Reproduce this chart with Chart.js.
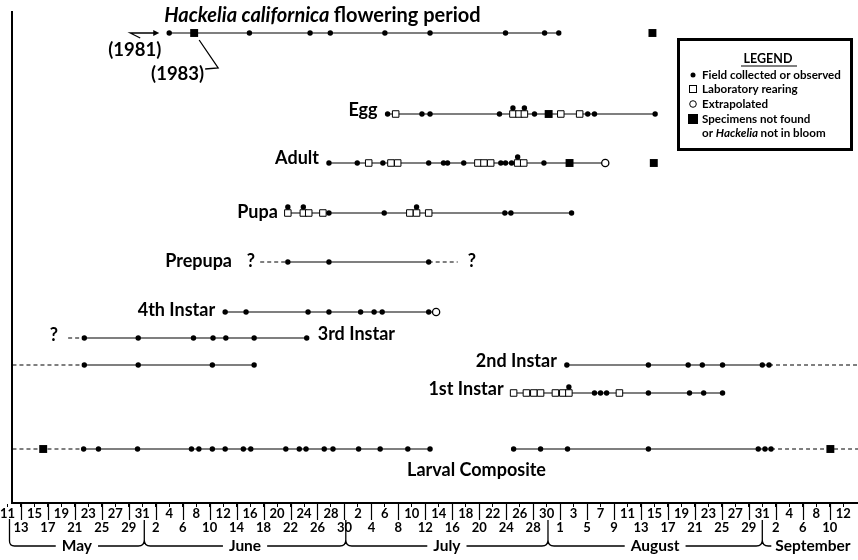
<!DOCTYPE html>
<html>
<head>
<meta charset="utf-8">
<script src="https://cdn.jsdelivr.net/npm/chart.js@4.4.1/dist/chart.umd.min.js"></script>
<style>
  html, body { margin: 0; padding: 0; background: #fff; }
  #wrap { width: 858px; height: 560px; }
</style>
</head>
<body>
<div id="wrap"><canvas id="chart" width="858" height="560"></canvas></div>
<script>
// All dates are day numbers counted from 11 May (day 0).

// axis text
const topTickLabels = ['11','15','19','23','27','31','4','8','12','16','20','24','28','2','6','10','14','18','22','26','30','3','7','11','15','19','23','27','31','4','8','12'];
const bottomTickLabels = ['13','17','21','25','29','2','6','10','14','18','22','26','30','4','8','12','16','20','24','28','1','5','9','13','17','21','25','29','2','6','10'];
const months = ['May', 'June', 'July', 'August', 'September'];
const monthBreaks = [0.3, 20.3, 50.2, 80.2, 112.0];

// Hackelia californica flowering period
const flowerField = [24.0, 35.9, 44.9, 47.9, 56.0, 62.7, 73.9, 79.7, 81.8];
const flowerMissing = [27.7, 95.7];
const flowerSpans = [[24.0, 81.8]];

// Egg
const eggField = [56.4, 61.5, 62.7, 73.0, 78.2, 86.1, 87.1, 96.1];
const eggLab = [57.6, 75.0, 75.9, 76.7, 82.1, 84.9];
const eggFieldOnLab = [75.0, 76.7];
const eggMissing = [80.3];
const eggSpans = [[56.4, 96.1]];

// Adult
const adultField = [47.7, 51.9, 55.7, 62.5, 64.7, 65.3, 67.7, 73.2, 73.9, 74.8, 79.6];
const adultLab = [53.6, 56.9, 57.9, 69.8, 70.7, 71.7, 75.7, 76.6];
const adultFieldOnLab = [75.7];
const adultMissing = [83.4, 95.9];
const adultExtrap = [88.7];
const adultSpans = [[47.7, 88.7]];

// Pupa
const pupaField = [47.7, 55.9, 73.8, 74.7, 83.7];
const pupaLab = [41.6, 43.9, 44.7, 46.8, 59.7, 60.7, 62.5];
const pupaFieldOnLab = [41.6, 43.9, 60.7];
const pupaSpans = [[41.6, 83.7]];

// Prepupa
const prepupaField = [41.6, 47.7, 62.5];
const prepupaSpans = [[41.6, 62.5]];
const prepupaUncertain = [[37.5, 41.6], [62.5, 66.8]];

// 4th instar
const instar4Field = [32.3, 35.4, 44.6, 47.7, 52.4, 54.4, 55.6, 62.5];
const instar4Extrap = [63.6];
const instar4Spans = [[32.3, 63.6]];

// 3rd instar
const instar3Field = [11.4, 19.4, 27.6, 30.5, 32.4, 36.6, 44.4];
const instar3Spans = [[11.4, 44.4]];
const instar3Uncertain = [[9.0, 11.4]];

// 2nd instar (overwinters: spring part on the left, summer part on the right)
const instar2Field = [11.4, 19.4, 30.4, 36.6, 83.0, 95.1, 101.0, 103.1, 106.1, 112.0, 113.0];
const instar2Spans = [[11.4, 36.6], [83.0, 113.0]];
const instar2Uncertain = [[0.74, 11.4], [113.0, 126.2]];

// 1st instar
const instar1Field = [87.1, 88.0, 88.9, 95.1, 101.2, 103.3, 106.1];
const instar1Lab = [75.1, 77.0, 78.1, 79.1, 81.3, 82.4, 83.3, 90.8];
const instar1FieldOnLab = [83.3];
const instar1Spans = [[75.1, 106.1]];

// Larval composite
const compositeField = [11.3, 13.5, 19.3, 27.3, 28.4, 30.4, 32.3, 35.0, 36.1, 41.3, 43.3, 44.3, 47.0, 48.3, 52.1, 55.3, 59.4, 62.7, 75.1, 79.1, 83.1, 95.1, 111.4, 112.4, 113.3];
const compositeMissing = [5.3, 122.1];
const compositeSpans = [[11.3, 62.7], [75.1, 113.3]];
const compositeUncertain = [[0.74, 11.3], [113.3, 126.2]];

const legendLabels = ['Field collected or observed', 'Laboratory rearing', 'Extrapolated', 'Specimens not found'];

// ---- layout (page pixels, y axis maps 1:1) ----
const rowY = { flower: 33, egg: 114, adult: 163, pupa: 213, prepupa: 262, instar4: 312, instar3: 338, instar2: 365, instar1: 393, composite: 449 };
const stackLift = 6;
const FONT = 'Lato';

const fieldPt = { pointStyle: 'circle', pointRadius: 2.7, pointBackgroundColor: '#000', pointBorderColor: '#000', pointBorderWidth: 0 };
const labPt = { pointStyle: 'rect', pointRadius: 4.6, pointBackgroundColor: '#fff', pointBorderColor: '#000', pointBorderWidth: 1 };
const extrapPt = { pointStyle: 'circle', pointRadius: 3.6, pointBackgroundColor: '#fff', pointBorderColor: '#000', pointBorderWidth: 1.3 };
const missingPt = { pointStyle: 'rect', pointRadius: 5.6, pointBackgroundColor: '#000', pointBorderColor: '#000', pointBorderWidth: 0 };

function marks(days, y, style, order) {
  return Object.assign({
    data: days.map(d => ({ x: d, y: y })),
    showLine: false, order: order, clip: false,
    pointHoverRadius: style.pointRadius
  }, style);
}
function lines(spans, y, dashed) {
  return spans.map(s => ({
    data: [{ x: s[0], y: y }, { x: s[1], y: y }],
    showLine: true, pointRadius: 0, borderColor: '#000', borderWidth: 1.2,
    borderDash: dashed ? [4, 3] : [], order: 9, clip: false
  }));
}

const datasets = [].concat(
  lines(flowerSpans, rowY.flower),
  marks(flowerField, rowY.flower, fieldPt, 2),
  marks(flowerMissing, rowY.flower, missingPt, 3),

  lines(eggSpans, rowY.egg),
  marks(eggField, rowY.egg, fieldPt, 2),
  marks(eggLab, rowY.egg, labPt, 3),
  marks(eggFieldOnLab, rowY.egg - stackLift, fieldPt, 1),
  marks(eggMissing, rowY.egg, missingPt, 3),

  lines(adultSpans, rowY.adult),
  marks(adultField, rowY.adult, fieldPt, 2),
  marks(adultLab, rowY.adult, labPt, 3),
  marks(adultFieldOnLab, rowY.adult - stackLift, fieldPt, 1),
  marks(adultMissing, rowY.adult, missingPt, 3),
  marks(adultExtrap, rowY.adult, extrapPt, 3),

  lines(pupaSpans, rowY.pupa),
  marks(pupaField, rowY.pupa, fieldPt, 2),
  marks(pupaLab, rowY.pupa, labPt, 3),
  marks(pupaFieldOnLab, rowY.pupa - stackLift, fieldPt, 1),

  lines(prepupaSpans, rowY.prepupa),
  lines(prepupaUncertain, rowY.prepupa, true),
  marks(prepupaField, rowY.prepupa, fieldPt, 2),

  lines(instar4Spans, rowY.instar4),
  marks(instar4Field, rowY.instar4, fieldPt, 2),
  marks(instar4Extrap, rowY.instar4, extrapPt, 3),

  lines(instar3Spans, rowY.instar3),
  lines(instar3Uncertain, rowY.instar3, true),
  marks(instar3Field, rowY.instar3, fieldPt, 2),

  lines(instar2Spans, rowY.instar2),
  lines(instar2Uncertain, rowY.instar2, true),
  marks(instar2Field, rowY.instar2, fieldPt, 2),

  lines(instar1Spans, rowY.instar1),
  marks(instar1Field, rowY.instar1, fieldPt, 2),
  marks(instar1Lab, rowY.instar1, labPt, 3),
  marks(instar1FieldOnLab, rowY.instar1 - stackLift, fieldPt, 1),

  lines(compositeSpans, rowY.composite),
  lines(compositeUncertain, rowY.composite, true),
  marks(compositeField, rowY.composite, fieldPt, 2),
  marks(compositeMissing, rowY.composite, missingPt, 3)
);

const tickDays = topTickLabels.map((_, i) => i * 4)
  .concat(bottomTickLabels.map((_, i) => i * 4 + 2))
  .sort((a, b) => a - b);

// Texts, legend box and the month brackets under the axis
const figureText = {
  id: 'figureText',
  afterDraw(chart) {
    const ctx = chart.ctx;
    const px = d => chart.scales.x.getPixelForValue(d);
    const py = v => chart.scales.y.getPixelForValue(v);
    ctx.save();
    ctx.fillStyle = '#000';
    ctx.strokeStyle = '#000';

    // title
    const y0 = py(rowY.flower);
    let tx = px(flowerField[0]) - 5;
    ctx.textBaseline = 'alphabetic';
    ctx.textAlign = 'left';
    ctx.font = 'italic bold 20px ' + FONT;
    ctx.fillText('Hackelia californica', tx, y0 - 11);
    tx += ctx.measureText('Hackelia californica ').width;
    ctx.font = 'bold 20px ' + FONT;
    ctx.fillText('flowering period', tx, y0 - 11);

    // year notes
    const x81 = px(flowerField[0]);
    const x83 = px(flowerMissing[0]);
    ctx.font = 'bold 18.5px ' + FONT;
    ctx.textAlign = 'right';
    ctx.fillText('(1981)', x81 - 8, y0 + 23);
    ctx.fillText('(1983)', x83 + 10, y0 + 47);
    ctx.lineWidth = 1.3;
    ctx.beginPath();
    ctx.moveTo(x81 - 29, y0 + 5);
    ctx.lineTo(x81 - 39, y0);
    ctx.lineTo(x81 - 13, y0);
    ctx.stroke();
    ctx.beginPath();
    ctx.moveTo(x81 - 10, y0);
    ctx.lineTo(x81 - 16, y0 - 3);
    ctx.lineTo(x81 - 16, y0 + 3);
    ctx.closePath();
    ctx.fill();
    ctx.beginPath();
    ctx.moveTo(x83 + 11, y0 + 36);
    ctx.lineTo(x83 + 24, y0 + 35);
    ctx.lineTo(x83 + 5, y0 + 7);
    ctx.stroke();

    // row labels
    ctx.font = 'bold 18px ' + FONT;
    ctx.textBaseline = 'middle';
    const leftLabel = (text, d, row, dy) => {
      ctx.textAlign = 'right';
      ctx.fillText(text, px(d) - 10, py(row) + dy);
    };
    leftLabel('Egg', eggField[0], rowY.egg, -4);
    leftLabel('Adult', adultField[0], rowY.adult, -5);
    leftLabel('Pupa', pupaLab[0], rowY.pupa, -1);
    leftLabel('?', prepupaUncertain[0][0] + 0.7, rowY.prepupa, -1);
    leftLabel('Prepupa', prepupaUncertain[0][0] - 2.7, rowY.prepupa, -1);
    leftLabel('4th Instar', instar4Field[0], rowY.instar4, -2);
    leftLabel('?', instar3Uncertain[0][0], rowY.instar3, -3);
    leftLabel('2nd Instar', instar2Spans[1][0], rowY.instar2, -4);
    leftLabel('1st Instar', instar1Lab[0], rowY.instar1, -4);
    ctx.textAlign = 'left';
    ctx.fillText('?', px(prepupaUncertain[1][1]) + 10, py(rowY.prepupa) - 1);
    ctx.fillText('3rd Instar', px(instar3Field[instar3Field.length - 1]) + 11, py(rowY.instar3) - 4);
    ctx.textAlign = 'center';
    ctx.fillText('Larval Composite', px((compositeSpans[0][1] + compositeSpans[1][0]) / 2 + 0.7), py(rowY.composite) + 21);

    // legend box
    ctx.lineWidth = 3;
    ctx.strokeRect(678.5, 39.5, 173, 110);
    ctx.font = 'bold 12.5px ' + FONT;
    ctx.textAlign = 'center';
    ctx.fillText('LEGEND', 768, 59);
    ctx.lineWidth = 1.2;
    ctx.beginPath();
    ctx.moveTo(741, 66); ctx.lineTo(797, 66);
    ctx.stroke();
    ctx.font = 'bold 11.6px ' + FONT;
    ctx.textAlign = 'left';
    const ly = [75, 89, 104, 119];
    const lx = 693;
    ctx.beginPath(); ctx.arc(lx, ly[0], 2.5, 0, Math.PI * 2); ctx.fill();
    ctx.lineWidth = 1;
    ctx.fillStyle = '#fff';
    ctx.fillRect(lx - 3.5, ly[1] - 3.5, 7, 7);
    ctx.strokeRect(lx - 3.5, ly[1] - 3.5, 7, 7);
    ctx.beginPath(); ctx.arc(lx, ly[2], 3.3, 0, Math.PI * 2); ctx.fill(); ctx.stroke();
    ctx.fillStyle = '#000';
    ctx.fillRect(lx - 5, ly[3] - 5, 10, 10);
    legendLabels.forEach((t, i) => ctx.fillText(t, lx + 9, ly[i]));
    let lt = lx + 9;
    ctx.fillText('or ', lt, 133);
    lt += ctx.measureText('or ').width;
    ctx.font = 'italic bold 11.6px ' + FONT;
    ctx.fillText('Hackelia', lt, 133);
    lt += ctx.measureText('Hackelia ').width;
    ctx.font = 'bold 11.6px ' + FONT;
    ctx.fillText('not in bloom', lt, 133);

    // separator bars between the upper tick labels
    const axisY = chart.chartArea.bottom;
    ctx.lineWidth = 1.2;
    ctx.beginPath();
    bottomTickLabels.forEach((_, i) => {
      const x = Math.round(px(i * 4 + 2)) + 0.5;
      ctx.moveTo(x, axisY);
      ctx.lineTo(x, axisY + 17);
    });
    ctx.stroke();

    // month brackets
    const yb = 546;
    ctx.font = 'bold 15.5px ' + FONT;
    ctx.textBaseline = 'middle';
    ctx.lineWidth = 1.3;
    ctx.beginPath();
    const b0 = px(monthBreaks[0]);
    ctx.moveTo(b0, axisY + 16);
    ctx.lineTo(b0, yb - 5);
    ctx.quadraticCurveTo(b0, yb, b0 + 5, yb);
    for (let i = 1; i < monthBreaks.length; i++) {
      const bx = px(monthBreaks[i]);
      ctx.moveTo(bx, axisY + 17);
      ctx.lineTo(bx, yb - 6);
      ctx.moveTo(bx - 6, yb);
      ctx.quadraticCurveTo(bx, yb, bx, yb - 6);
      ctx.quadraticCurveTo(bx, yb, bx + 6, yb);
    }
    months.forEach((m, i) => {
      const a = px(monthBreaks[i]);
      const w = ctx.measureText(m).width;
      if (i + 1 < monthBreaks.length) {
        const b = px(monthBreaks[i + 1]);
        const c = (a + b) / 2;
        ctx.textAlign = 'center';
        ctx.fillText(m, c, yb);
        ctx.moveTo(a + (i === 0 ? 5 : 6), yb); ctx.lineTo(c - w / 2 - 6, yb);
        ctx.moveTo(c + w / 2 + 6, yb); ctx.lineTo(b - 6, yb);
      } else {
        ctx.textAlign = 'left';
        ctx.fillText(m, a + 13, yb);
        ctx.moveTo(a + 6, yb); ctx.lineTo(a + 9, yb);
      }
    });
    ctx.stroke();
    ctx.restore();
  }
};

new Chart(document.getElementById('chart'), {
  type: 'scatter',
  data: { datasets: datasets },
  plugins: [figureText],
  options: {
    responsive: false,
    animation: false,
    devicePixelRatio: 1,
    events: [],
    layout: { autoPadding: false, padding: { top: 12, left: 11, right: 0, bottom: 25 } },
    plugins: { legend: { display: false }, tooltip: { enabled: false } },
    scales: {
      x: {
        type: 'linear',
        position: 'bottom',
        min: 0.74,
        max: 126.2,
        afterBuildTicks: s => { s.ticks = tickDays.map(v => ({ value: v })); },
        ticks: {
          autoSkip: false, maxRotation: 0, minRotation: 0, padding: 0,
          color: '#000',
          font: { family: FONT, weight: 'bold', size: 13, lineHeight: 14 / 13 },
          callback: v => {
            const k = Math.round(v / 2);
            return k % 2 === 0 ? [topTickLabels[k / 2], ''] : ['', bottomTickLabels[(k - 1) / 2]];
          }
        },
        grid: { display: true, drawOnChartArea: false, drawTicks: true, tickLength: 4, color: '#000', lineWidth: 1 },
        border: { display: true, color: '#000', width: 2 }
      },
      y: {
        type: 'linear',
        min: 12,
        max: 503,
        reverse: true,
        ticks: { display: false },
        grid: { display: false, drawTicks: false },
        border: { display: true, color: '#000', width: 2 }
      }
    }
  }
});
</script>
</body>
</html>
